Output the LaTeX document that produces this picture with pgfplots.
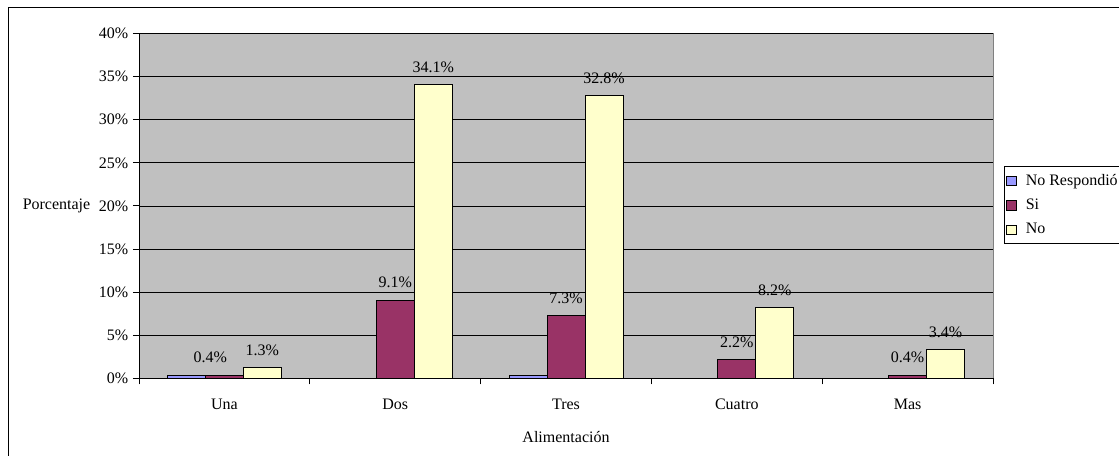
\documentclass[border=0pt]{standalone}
\usepackage{pgfplots}
\pgfplotsset{compat=1.18}
\usepackage{pgfplotstable}
\usepackage{fontspec}
\setmainfont{Liberation Serif}
\definecolor{nrblue}{HTML}{9999FF}
\definecolor{siplum}{HTML}{993366}
\definecolor{noyel}{HTML}{FFFFCC}
\definecolor{bgsilver}{HTML}{C0C0C0}
\definecolor{edgegray}{HTML}{808080}
\pgfplotstableread{
x nr si no dx
0 0.4 0.4 1.3 -10.5
1 nan 9.1 34.1 0
2 0.4 7.3 32.8 0
3 nan 2.2 8.2 0
4 nan 0.4 3.4 0
}\datatab
\newcommand{\fs}{\fontsize{12}{14}\selectfont}
\begin{document}
\begin{tikzpicture}
\draw[black, line width=0.75pt] (6pt,-10pt) -- (6pt,336pt) -- (850pt,336pt);
\begin{axis}[
  at={(104.25pt,58.125pt)}, anchor=south west,
  scale only axis, width=640.5pt, height=258.75pt,
  ybar=0pt, bar width=28.5pt,
  xmin=-0.5, xmax=4.5, ymin=0, ymax=40,
  axis background/.style={fill=bgsilver, draw=edgegray},
  axis x line*=bottom, axis y line*=left,
  axis line style={black, line width=0.75pt},
  tick align=outside, major tick length=4.5pt,
  tick style={black, line width=0.75pt},
  xtick={-0.5,0.5,...,4.5}, xticklabels={},
  extra x ticks={0,1,2,3,4},
  extra x tick labels={Una,Dos,Tres,Cuatro,Mas},
  extra x tick style={major tick length=0pt, tick style={draw=none}, grid=none},
  xticklabel style={yshift=-12pt},
  ytick={0,5,...,40},
  yticklabels={0\%,5\%,10\%,15\%,20\%,25\%,30\%,35\%,40\%},
  ymajorgrids, grid style={black, line width=0.6pt},
  ticklabel style={font=\fs},
  /pgf/number format/assume math mode=true,
  xlabel={Alimentación}, ylabel={Porcentaje},
  every axis x label/.style={at={(axis description cs:0.5,0)}, anchor=center, yshift=-43.9pt, font=\fs},
  every axis y label/.style={at={(axis description cs:0,0.5)}, anchor=east, xshift=-33pt, font=\fs},
  legend style={at={(axis description cs:1.0129,0.615)}, anchor=north west,
    font=\fs, draw=black, line width=0.6pt, fill=white, inner xsep=1.5pt, inner ysep=4.5pt, row sep=6.4pt,
    nodes={inner sep=1.2pt}},
  legend cell align=left,
  clip=false,
]
\addplot[fill=nrblue, draw=black, line width=0.6pt,
  legend image code/.code={\path[draw=none,fill=none] (0pt,0pt) -- (13pt,0pt); \draw[fill=nrblue,draw=black,line width=0.6pt] (0pt,-3.6pt) rectangle (7.2pt,3.6pt);}]
  table[x=x,y=nr]{\datatab};
\addplot[fill=siplum, draw=black, line width=0.6pt,
  legend image code/.code={\path[draw=none,fill=none] (0pt,0pt) -- (13pt,0pt); \draw[fill=siplum,draw=black,line width=0.6pt] (0pt,-3.6pt) rectangle (7.2pt,3.6pt);},
  visualization depends on={\thisrow{dx} \as \dx},
  nodes near coords={\pgfmathprintnumber[fixed,fixed zerofill,precision=1]{\pgfplotspointmeta}\%},
  every node near coord/.append style={anchor=center, yshift=13pt, xshift=\dx pt, font=\fs, black}]
  table[x=x,y=si]{\datatab};
\addplot[fill=noyel, draw=black, line width=0.6pt,
  legend image code/.code={\path[draw=none,fill=none] (0pt,0pt) -- (13pt,0pt); \draw[fill=noyel,draw=black,line width=0.6pt] (0pt,-3.6pt) rectangle (7.2pt,3.6pt);},
  nodes near coords={\pgfmathprintnumber[fixed,fixed zerofill,precision=1]{\pgfplotspointmeta}\%},
  every node near coord/.append style={anchor=center, yshift=13pt, font=\fs, black}]
  table[x=x,y=no]{\datatab};
\legend{No Respondió,Si,No}
\end{axis}
\pgfresetboundingbox
\useasboundingbox (0,0) rectangle (839.25pt,342pt);
\end{tikzpicture}
\end{document}
